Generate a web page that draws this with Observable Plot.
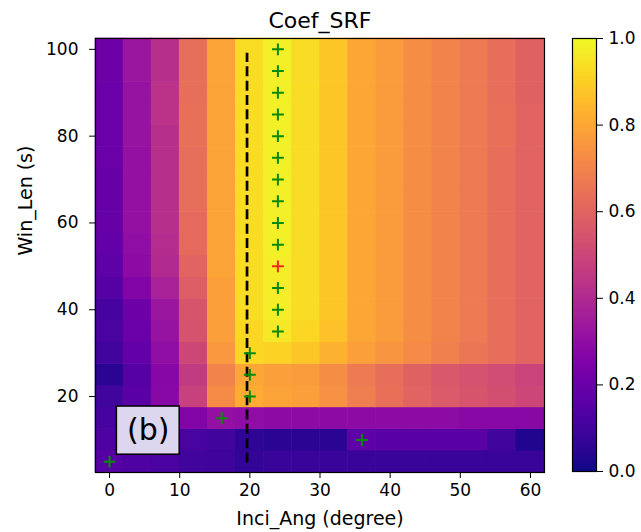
<!DOCTYPE html>
<html>
<head>
<meta charset="utf-8">
<script src="https://cdn.jsdelivr.net/npm/d3@7"></script>
<script src="https://cdn.jsdelivr.net/npm/@observablehq/plot@0.6"></script>
<style>
  html, body { margin: 0; padding: 0; background: #fff; }
  #chart { position: relative; width: 641px; height: 532px; font-family: "DejaVu Sans", sans-serif; }
  #chart svg { position: absolute; top: 0; }
</style>
</head>
<body>
<div id="chart"></div>
<script>
// ---- data ----
const title = "Coef_SRF";
const xLabel = "Inci_Ang (degree)";
const yLabel = "Win_Len (s)";

const inciAng = [0, 4, 8, 12, 16, 20, 24, 28, 32, 36, 40, 44, 48, 52, 56, 60];
const winLen = [5, 10, 15, 20, 25, 30, 35, 40, 45, 50, 55, 60, 65, 70, 75, 80, 85, 90, 95, 100];
const angStep = 4;
const lenStep = 5;

// one row per Win_Len (ascending), one value per Inci_Ang
const coef = [
  [0.15, 0.13, 0.12, 0.10, 0.09, 0.07, 0.08, 0.08, 0.08, 0.08, 0.08, 0.08, 0.08, 0.08, 0.08, 0.08], // 5
  [0.13, 0.12, 0.12, 0.12, 0.10, 0.06, 0.05, 0.05, 0.05, 0.17, 0.16, 0.16, 0.16, 0.16, 0.10, 0.03], // 10
  [0.11, 0.13, 0.20, 0.26, 0.31, 0.30, 0.29, 0.29, 0.29, 0.29, 0.29, 0.29, 0.29, 0.28, 0.28, 0.28], // 15
  [0.10, 0.16, 0.28, 0.48, 0.72, 0.81, 0.79, 0.78, 0.74, 0.68, 0.64, 0.60, 0.57, 0.55, 0.53, 0.50], // 20
  [0.05, 0.15, 0.27, 0.46, 0.70, 0.80, 0.78, 0.77, 0.73, 0.67, 0.63, 0.59, 0.56, 0.54, 0.52, 0.49], // 25
  [0.10, 0.18, 0.30, 0.50, 0.76, 0.92, 0.91, 0.88, 0.83, 0.78, 0.75, 0.72, 0.69, 0.66, 0.63, 0.60], // 30
  [0.12, 0.20, 0.32, 0.54, 0.78, 0.92, 0.96, 0.92, 0.87, 0.80, 0.77, 0.73, 0.70, 0.67, 0.63, 0.60], // 35
  [0.11, 0.21, 0.33, 0.55, 0.78, 0.93, 0.97, 0.93, 0.88, 0.80, 0.77, 0.73, 0.70, 0.67, 0.63, 0.60], // 40
  [0.15, 0.26, 0.37, 0.58, 0.78, 0.93, 0.97, 0.93, 0.88, 0.80, 0.77, 0.73, 0.70, 0.67, 0.63, 0.60], // 45
  [0.17, 0.29, 0.40, 0.60, 0.79, 0.93, 0.97, 0.93, 0.88, 0.80, 0.77, 0.73, 0.70, 0.67, 0.63, 0.60], // 50
  [0.18, 0.30, 0.41, 0.62, 0.79, 0.93, 0.98, 0.93, 0.88, 0.80, 0.77, 0.73, 0.70, 0.67, 0.63, 0.60], // 55
  [0.19, 0.31, 0.42, 0.62, 0.79, 0.93, 0.98, 0.93, 0.88, 0.80, 0.77, 0.73, 0.70, 0.67, 0.63, 0.60], // 60
  [0.19, 0.31, 0.42, 0.63, 0.79, 0.93, 0.98, 0.93, 0.88, 0.80, 0.77, 0.73, 0.70, 0.67, 0.63, 0.60], // 65
  [0.19, 0.31, 0.42, 0.63, 0.79, 0.93, 0.98, 0.93, 0.88, 0.80, 0.77, 0.73, 0.70, 0.67, 0.63, 0.60], // 70
  [0.20, 0.31, 0.42, 0.63, 0.79, 0.93, 0.98, 0.93, 0.88, 0.80, 0.77, 0.73, 0.70, 0.67, 0.63, 0.60], // 75
  [0.20, 0.32, 0.42, 0.64, 0.79, 0.93, 0.98, 0.93, 0.88, 0.80, 0.77, 0.73, 0.70, 0.67, 0.64, 0.60], // 80
  [0.20, 0.32, 0.43, 0.64, 0.79, 0.93, 0.98, 0.93, 0.88, 0.80, 0.77, 0.73, 0.70, 0.67, 0.64, 0.60], // 85
  [0.20, 0.32, 0.43, 0.63, 0.79, 0.93, 0.98, 0.93, 0.88, 0.80, 0.77, 0.73, 0.70, 0.67, 0.63, 0.59], // 90
  [0.21, 0.33, 0.42, 0.63, 0.79, 0.93, 0.98, 0.93, 0.88, 0.80, 0.77, 0.73, 0.70, 0.67, 0.63, 0.59], // 95
  [0.21, 0.33, 0.42, 0.63, 0.79, 0.93, 0.98, 0.93, 0.88, 0.80, 0.77, 0.73, 0.70, 0.67, 0.63, 0.59]  // 100
];

// best Inci_Ang for each Win_Len (green "+"), and the overall best (red "+")
const peakAng = [0, 36, 16, 20, 20, 20, 24, 24, 24, 24, 24, 24, 24, 24, 24, 24, 24, 24, 24, 24];
const bestAng = 24;
const bestLen = 50;

// dashed reference line
const refAng = 19.6;
const refLenFrom = 4.7;
const refLenTo = 99.1;

// panel tag
const panelTag = "(b)";
const panelAng = [1.05, 10.0];
const panelLen = [6.6, 17.7];

const xTicks = [0, 10, 20, 30, 40, 50, 60];
const yTicks = [20, 40, 60, 80, 100];
const cbarTicks = [0, 0.2, 0.4, 0.6, 0.8, 1.0];

// ---- derived tables ----
const cells = winLen.flatMap((len, i) => inciAng.map((ang, j) => ({ang, len, v: coef[i][j]})));
const peaks = winLen.map((len, i) => ({ang: peakAng[i], len}));
const greenPeaks = peaks.filter(d => !(d.ang === bestAng && d.len === bestLen));
const redPeaks = [{ang: bestAng, len: bestLen}];
const refLine = [{ang: refAng, from: refLenFrom, to: refLenTo}];
const tag = [{label: panelTag, x1: panelAng[0], x2: panelAng[1], y1: panelLen[0], y2: panelLen[1]}];

const colorScale = {type: "linear", scheme: "plasma", domain: [0, 1]};
const font = "'DejaVu Sans', sans-serif";

const main = Plot.plot({
  width: 560,
  height: 532,
  marginLeft: 95,
  marginRight: 16,
  marginTop: 38,
  marginBottom: 60,
  style: {fontFamily: font, fontSize: "17px", background: "transparent", color: "black", overflow: "visible"},
  x: {domain: [inciAng[0] - angStep / 2, inciAng[inciAng.length - 1] + angStep / 2], axis: null},
  y: {domain: [winLen[0] - lenStep / 2, winLen[winLen.length - 1] + lenStep / 2], axis: null},
  color: colorScale,
  marks: [
    Plot.rect(cells, {
      x1: d => d.ang - angStep / 2, x2: d => d.ang + angStep / 2,
      y1: d => d.len - lenStep / 2, y2: d => d.len + lenStep / 2,
      fill: "v", inset: -0.3
    }),
    Plot.ruleX(refLine, {x: "ang", y1: "from", y2: "to", stroke: "black", strokeWidth: 2.7, strokeDasharray: "10,4.3"}),
    Plot.dot(greenPeaks, {x: "ang", y: "len", symbol: "plus", r: 3.9, stroke: "#0a8a0a", fill: "none", strokeWidth: 2}),
    Plot.dot(redPeaks, {x: "ang", y: "len", symbol: "plus", r: 3.9, stroke: "#ee2a1a", fill: "none", strokeWidth: 2}),
    Plot.rect(tag, {x1: "x1", x2: "x2", y1: "y1", y2: "y2", fill: "#dcd6ef", stroke: "black", strokeWidth: 1.5}),
    Plot.text(tag, {x: d => (d.x1 + d.x2) / 2, y: d => (d.y1 + d.y2) / 2, text: "label", fontSize: 30, fill: "black"}),
    Plot.frame({stroke: "black", strokeWidth: 1.2}),
    Plot.axisX({ticks: xTicks, tickSize: 6, tickPadding: 5, label: null, fontSize: 17}),
    Plot.axisY({ticks: yTicks, tickSize: 6, tickPadding: 11, label: null, fontSize: 17}),
    Plot.text([xLabel], {frameAnchor: "bottom", lineAnchor: "middle", dy: 46, fontSize: 19}),
    Plot.text([yLabel], {frameAnchor: "left", lineAnchor: "middle", dx: -70, rotate: -90, fontSize: 19}),
    Plot.text([title], {frameAnchor: "top", lineAnchor: "middle", dy: -18, fontSize: 22})
  ]
});
main.style.left = "0px";

const cbar = Plot.plot({
  width: 81,
  height: 532,
  marginLeft: 12,
  marginRight: 45,
  marginTop: 38,
  marginBottom: 61,
  style: {fontFamily: font, fontSize: "17px", background: "transparent", color: "black", overflow: "visible"},
  x: {domain: [0, 1], axis: null},
  y: {domain: [0, 1], axis: null},
  color: colorScale,
  marks: [
    Plot.raster({x1: 0, x2: 1, y1: 0, y2: 1, fill: (x, y) => y, pixelSize: 1}),
    Plot.frame({stroke: "black", strokeWidth: 1.2}),
    Plot.axisY({anchor: "right", ticks: cbarTicks, tickFormat: ".1f", tickSize: 6, tickPadding: 6, label: null, fontSize: 17})
  ]
});
cbar.style.left = "560px";

const root = document.getElementById("chart");
root.appendChild(main);
root.appendChild(cbar);
</script>
</body>
</html>
